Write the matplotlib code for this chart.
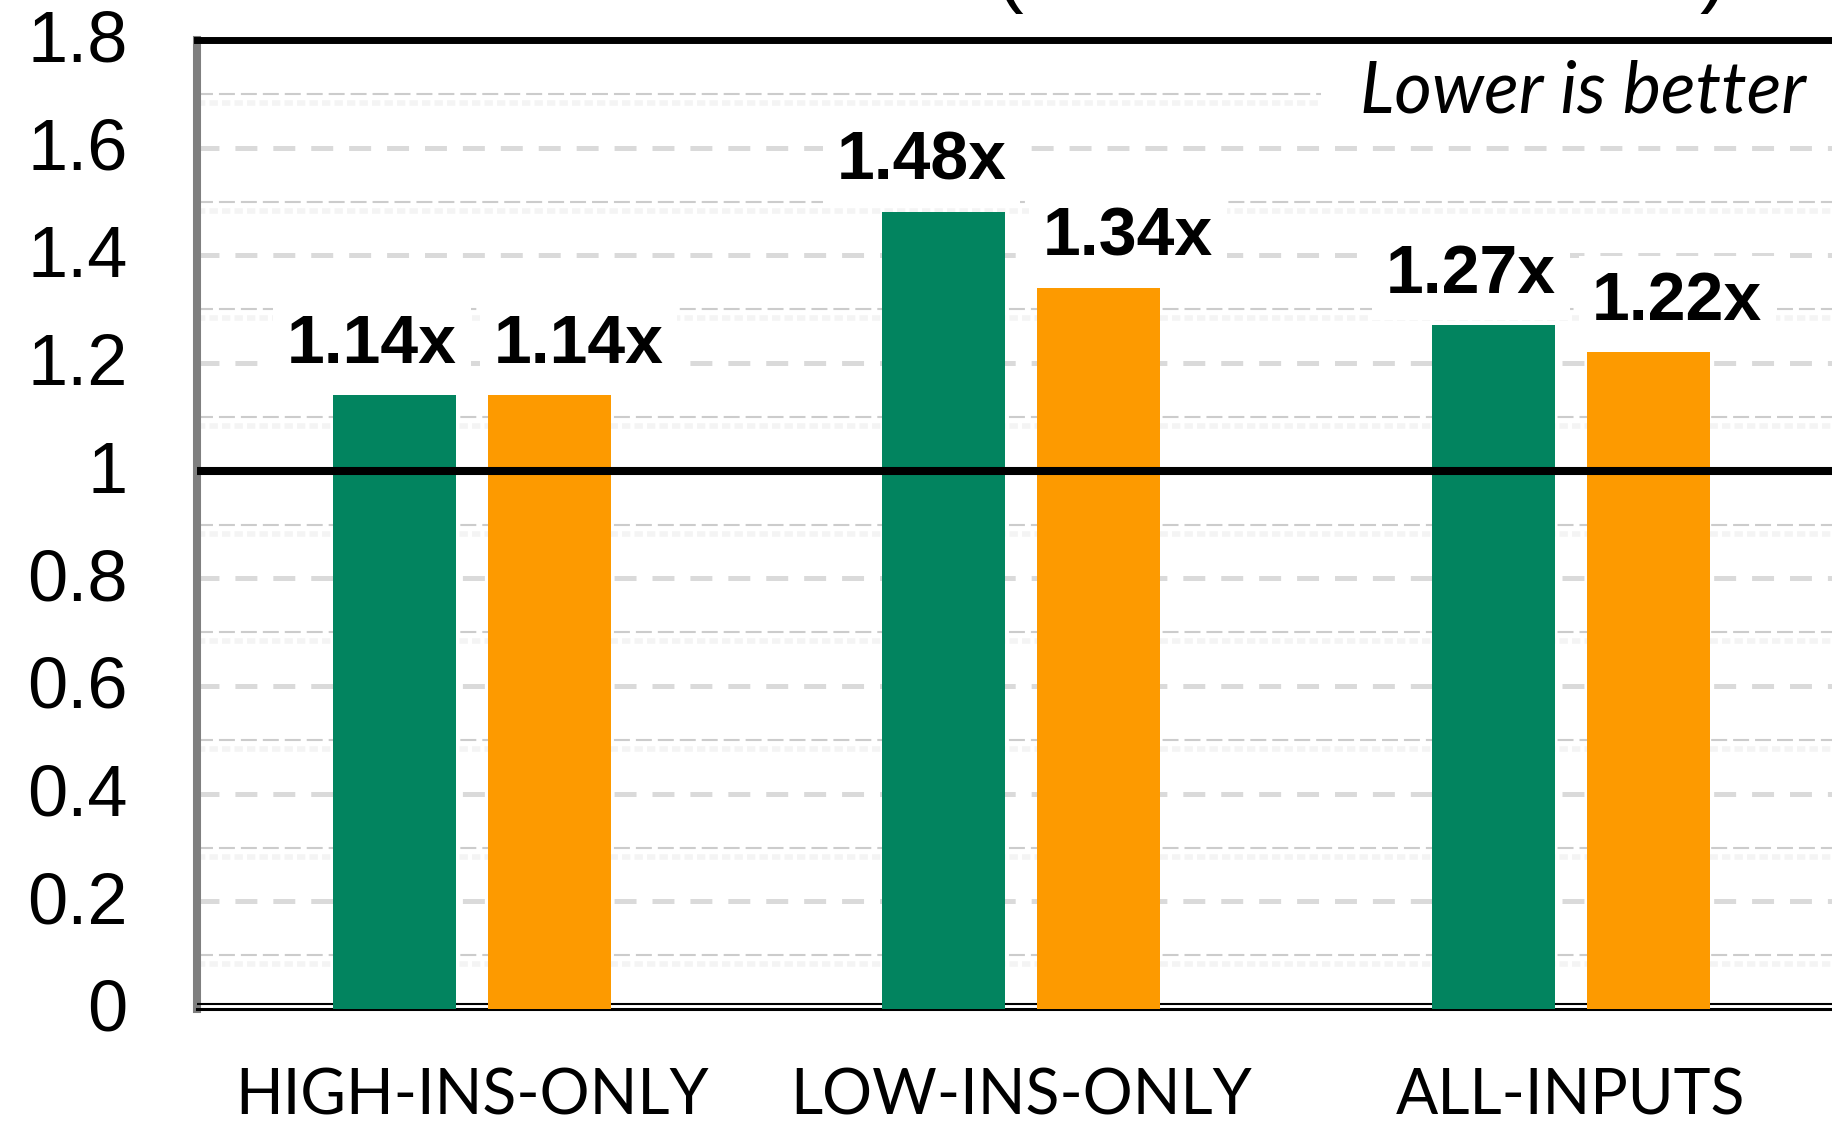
import matplotlib
matplotlib.use("Agg")
import matplotlib.pyplot as plt
from matplotlib.patches import Rectangle
from matplotlib.transforms import ScaledTranslation
import numpy as np

# ---- data ----
categories = ["HIGH-INS-ONLY", "LOW-INS-ONLY", "ALL-INPUTS"]
series_green = [1.14, 1.48, 1.27]
series_orange = [1.14, 1.34, 1.22]
y_ticks = [0, 0.2, 0.4, 0.6, 0.8, 1.0, 1.2, 1.4, 1.6, 1.8]
y_tick_labels = ["0", "0.2", "0.4", "0.6", "0.8", "1", "1.2", "1.4", "1.6", "1.8"]
minor_ticks = [0.1, 0.3, 0.5, 0.7, 0.9, 1.1, 1.3, 1.5, 1.7]
baseline_value = 1.0
note_text = "Lower is better"

GREEN = "#02845f"
ORANGE = "#fd9a00"

plt.rcParams["lines.scale_dashes"] = False
plt.rcParams["font.family"] = ["Liberation Sans", "DejaVu Sans"]

fig = plt.figure(figsize=(18.33, 11.25), dpi=100)
ax = fig.add_axes([0.1075, 0.1031, 0.8993, 0.8613])

x = np.arange(len(categories))
width = 0.224
offset = 0.141

ax.bar(x - offset, series_green, width, color=GREEN, zorder=4, linewidth=0)
ax.bar(x + offset, series_orange, width, color=ORANGE, zorder=4, linewidth=0)

ax.set_xlim(-0.5, 2.5)
ax.set_ylim(0, 1.8)

# gridlines: heavier dashes on labelled ticks, fine dashes in between
for yv in y_ticks[1:-1]:
    ax.axhline(yv, color="#dadada", lw=3.6, ls=(0, (15.8, 11.5)), zorder=1)
for yv in minor_ticks:
    ax.axhline(yv - 0.017, color="#f4f4f4", lw=4.0, ls=(0, (6, 3)), zorder=1)
    ax.axhline(yv, color="#cccccc", lw=1.5, ls=(0, (11.5, 4.3)), zorder=1)

# reference line at 1x
ax.axhline(baseline_value, color="black", lw=5.8, zorder=5)
ax.axhline(0.0093, color="black", lw=1.5, zorder=3)

# value labels
label_kw = dict(textcoords="offset points", ha="center", va="baseline",
                fontsize=49, fontweight="bold", zorder=3,
                bbox=dict(boxstyle="square,pad=0.2", fc="white", ec="none"))
for xi, v in zip(x - offset, series_green):
    ax.annotate(f"{v:.2f}x", (xi, v), xytext=(-16, 23.5), **label_kw)
for xi, v in zip(x + offset, series_orange):
    ax.annotate(f"{v:.2f}x", (xi, v), xytext=(21, 23.5), **label_kw)

# note in the top right corner
ax.add_patch(Rectangle((1.545, 1.655), 1.0, 0.09, fc="white", ec="none", zorder=2))
ax.text(2.428, 1.666, note_text, ha="right", va="baseline", style="italic",
        fontsize=52, family=["Lato", "DejaVu Sans"], zorder=3)

# axes styling
ax.set_yticks(y_ticks)
ax.set_yticklabels(y_tick_labels, fontsize=52)
ax.set_xticks(x)
ax.set_xticklabels(categories, fontsize=45, family=["Lato", "DejaVu Sans"])
ax.tick_params(axis="y", length=0, pad=50)
ax.tick_params(axis="x", length=0, pad=42)
shift_up = ScaledTranslation(0, 3 / 72, fig.dpi_scale_trans)
for lbl in ax.get_yticklabels():
    lbl.set_transform(lbl.get_transform() + shift_up)

ax.spines["left"].set_color("#7f7f7f")
ax.spines["left"].set_linewidth(5.8)
ax.spines["top"].set_color("black")
ax.spines["top"].set_linewidth(5.0)
ax.spines["bottom"].set_color("black")
ax.spines["bottom"].set_linewidth(2.2)
ax.spines["right"].set_visible(False)

# title brackets running off the top edge
fig.text(1010 / 1833, 1.0 + 3 / 1125, "(", ha="center", va="baseline", fontsize=60)
fig.text(1713 / 1833, 1.0 + 3 / 1125, ")", ha="center", va="baseline", fontsize=60)

fig.savefig("out.png", dpi=100)
